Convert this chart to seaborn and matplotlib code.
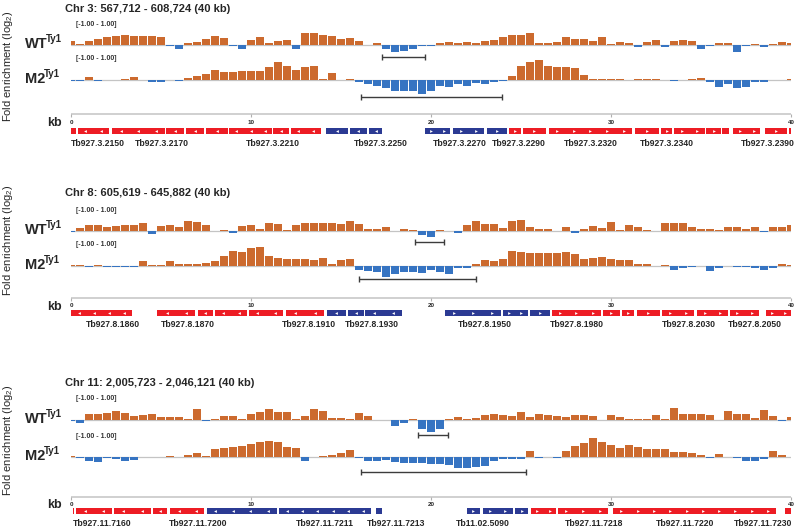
import numpy as np
import pandas as pd
import matplotlib.pyplot as plt
import seaborn as sns

sns.set_style('white')
plt.rcParams['font.family'] = ['Liberation Sans', 'DejaVu Sans']
plt.rcParams['mathtext.fontset'] = 'custom'
plt.rcParams['mathtext.rm'] = 'Liberation Sans'

# bin positions (kb), one value per 0.5 kb bin
KB = np.linspace(0, 40, 81)

# ---- Chr 3 ----
WT_CHR3 = [0.2, 0.05, 0.2, 0.3, 0.38, 0.45, 0.5, 0.45, 0.45, 0.45,
           0.4, -0.05, -0.2, 0.1, 0.15, 0.3, 0.45, 0.35, -0.05, -0.22,
           0.25, 0.38, 0.1, 0.2, 0.27, -0.18, 0.6, 0.6, 0.52, 0.45,
           0.3, 0.35, 0.2, 0.02, 0.1, -0.2, -0.35, -0.3, -0.2, -0.05,
           -0.05, 0.1, 0.15, 0.12, 0.15, 0.12, 0.22, 0.25, 0.42, 0.48,
           0.5, 0.58, 0.1, 0.12, 0.15, 0.38, 0.3, 0.3, 0.2, 0.38,
           0.05, 0.15, 0.12, -0.08, 0.15, 0.25, -0.08, 0.18, 0.25, 0.22,
           -0.2, -0.05, 0.1, 0.08, -0.35, -0.05, 0.05, -0.08, 0.05, 0.15,
           0.1]
M2_CHR3 = [-0.03, -0.03, 0.15, -0.03, -0.02, -0.02, 0.05, 0.17, 0.0, -0.12,
           -0.08, 0.0, -0.05, 0.1, 0.2, 0.3, 0.5, 0.4, 0.38, 0.45,
           0.45, 0.45, 0.65, 0.88, 0.72, 0.5, 0.65, 0.7, 0.05, 0.35,
           0.0, 0.03, -0.1, -0.2, -0.3, -0.38, -0.55, -0.55, -0.55, -0.7,
           -0.55, -0.28, -0.33, -0.18, -0.28, -0.15, -0.18, -0.1, -0.05, 0.2,
           0.7, 0.92, 1.0, 0.7, 0.63, 0.63, 0.58, 0.25, 0.03, 0.03,
           0.03, 0.03, 0.0, 0.03, 0.03, 0.03, 0.0, -0.03, 0.0, 0.05,
           0.12, -0.1, -0.35, -0.18, -0.38, -0.35, -0.12, -0.1, 0.0, 0.0,
           0.05]
GENE_START_CHR3 = [0.0, 0.37, 2.26, 5.26, 6.4, 7.5, 8.8, 11.24, 12.2, 14.17, 15.5, 16.56, 19.67,
                   21.2, 23.13, 24.35, 25.1, 26.54, 31.33, 32.8, 33.5, 35.3, 36.17, 36.8, 38.56, 39.9]
GENE_END_CHR3 = [0.3, 2.1, 5.2, 6.3, 7.4, 8.7, 11.15, 12.1, 13.87, 15.37, 16.43, 17.3, 21.06,
                 22.96, 24.24, 24.98, 26.37, 31.18, 32.67, 33.4, 35.2, 36.1, 36.56, 38.3, 39.78, 40.0]
GENE_KIND_CHR3 = 'rrrrrrrrrbbbbbbrrrrrrrrrrr'
GENE_STRAND_CHR3 = '<<<<<<<<<<<<>>>>>>>>>>>>>>'
NAMES_CHR3 = ['Tb927.3.2150', 'Tb927.3.2170', 'Tb927.3.2210', 'Tb927.3.2250', 'Tb927.3.2270',
              'Tb927.3.2290', 'Tb927.3.2320', 'Tb927.3.2340', 'Tb927.3.2390']
NAME_POS_CHR3 = [1.5, 5.06, 11.2, 17.2, 21.6, 24.9, 28.9, 33.1, 38.7]
BAR_WT_CHR3 = (17.28, 19.67)
BAR_M2_CHR3 = (16.1, 23.94)

# ---- Chr 8 ----
WT_CHR8 = [-0.05, 0.15, 0.32, 0.28, 0.2, 0.25, 0.28, 0.3, 0.4, -0.15,
           0.25, 0.3, 0.2, 0.48, 0.45, 0.3, 0.0, 0.03, -0.12, 0.25,
           0.28, 0.1, 0.4, 0.35, 0.05, 0.3, 0.4, 0.42, 0.42, 0.4,
           0.35, 0.48, 0.35, 0.12, 0.12, 0.2, 0.0, 0.1, 0.05, -0.22,
           -0.3, 0.03, 0.02, -0.08, 0.3, 0.5, 0.33, 0.33, 0.15, 0.5,
           0.53, 0.2, 0.1, 0.12, 0.02, 0.2, -0.08, 0.1, 0.25, 0.15,
           0.45, 0.05, 0.28, 0.2, 0.05, 0.0, 0.42, 0.38, 0.42, 0.2,
           0.12, 0.08, 0.05, 0.22, 0.18, 0.08, 0.2, -0.05, 0.2, 0.2,
           0.28]
M2_CHR8 = [0.03, 0.05, -0.05, 0.05, -0.07, -0.07, -0.07, -0.05, 0.27, 0.03,
           0.05, 0.23, 0.12, 0.1, 0.1, 0.15, 0.25, 0.5, 0.75, 0.72,
           0.9, 0.95, 0.5, 0.38, 0.35, 0.33, 0.33, 0.3, 0.38, 0.1,
           0.3, 0.33, -0.2, -0.25, -0.3, -0.55, -0.4, -0.3, -0.3, -0.37,
           -0.2, -0.3, -0.4, -0.12, -0.1, 0.1, 0.3, 0.25, 0.35, 0.75,
           0.72, 0.65, 0.67, 0.67, 0.65, 0.72, 0.6, 0.35, 0.4, 0.43,
           0.35, 0.3, 0.3, 0.12, 0.08, 0.0, 0.03, -0.2, -0.1, -0.05,
           0.0, -0.23, -0.1, 0.0, -0.05, -0.05, -0.1, -0.2, -0.1, 0.08,
           0.05]
GENE_START_CHR8 = [0.0, 4.78, 7.04, 8.0, 9.87, 11.93, 14.2, 15.37, 16.33, 20.78,
                   23.98, 25.48, 26.72, 29.54, 30.6, 31.44, 32.85, 34.76, 36.6, 38.6]
GENE_END_CHR8 = [3.37, 6.9, 7.9, 9.76, 11.8, 14.07, 15.26, 16.3, 18.4, 23.9,
                 25.37, 26.63, 29.43, 30.5, 31.3, 32.72, 34.63, 36.5, 38.24, 40.0]
GENE_KIND_CHR8 = 'rrrrrrbbbbbbrrrrrrrr'
GENE_STRAND_CHR8 = '<<<<<<<<<>>>>>>>>>>>'
NAMES_CHR8 = ['Tb927.8.1860', 'Tb927.8.1870', 'Tb927.8.1910', 'Tb927.8.1930',
              'Tb927.8.1950', 'Tb927.8.1980', 'Tb927.8.2030', 'Tb927.8.2050']
NAME_POS_CHR8 = [2.33, 6.5, 13.2, 16.7, 23.0, 28.1, 34.3, 38.0]
BAR_WT_CHR8 = (19.1, 20.7)
BAR_M2_CHR8 = (16.0, 22.5)

# ---- Chr 11 ----
WT_CHR11 = [-0.03, -0.17, 0.28, 0.32, 0.33, 0.45, 0.35, 0.2, 0.25, 0.28,
            0.15, 0.15, 0.17, 0.05, 0.53, -0.05, 0.05, 0.2, 0.2, 0.03,
            0.3, 0.38, 0.55, 0.42, 0.4, 0.05, 0.2, 0.55, 0.45, 0.1,
            0.12, 0.03, 0.35, 0.2, 0.0, 0.02, -0.3, -0.15, 0.03, -0.45,
            -0.62, -0.45, 0.05, 0.17, 0.03, 0.12, 0.25, 0.28, 0.25, 0.2,
            0.42, 0.15, 0.28, 0.25, 0.22, 0.15, 0.25, 0.25, 0.22, 0.0,
            0.25, 0.15, 0.05, 0.03, 0.05, 0.25, 0.05, 0.58, 0.3, 0.3,
            0.3, 0.25, 0.02, 0.45, 0.3, 0.28, 0.1, 0.5, 0.2, -0.05,
            0.15]
M2_CHR11 = [0.05, -0.05, -0.18, -0.25, -0.05, -0.1, -0.2, -0.15, 0.02, 0.02,
            0.0, 0.03, 0.02, 0.1, 0.2, 0.05, 0.42, 0.45, 0.5, 0.53,
            0.65, 0.75, 0.8, 0.75, 0.48, 0.45, -0.18, 0.02, 0.05, 0.1,
            0.18, 0.37, -0.05, -0.18, -0.18, -0.15, -0.25, -0.3, -0.3, -0.3,
            -0.35, -0.35, -0.38, -0.55, -0.55, -0.52, -0.47, -0.22, -0.1, -0.08,
            -0.08, 0.3, -0.05, 0.0, -0.05, 0.3, 0.55, 0.7, 0.95, 0.75,
            0.6, 0.45, 0.62, 0.5, 0.42, 0.42, 0.42, 0.23, 0.23, 0.2,
            0.1, -0.07, 0.15, 0.0, -0.05, -0.2, -0.22, -0.1, 0.28, 0.1,
            0.0]
GENE_START_CHR11 = [0.1, 0.28, 2.37, 4.57, 5.5, 7.54, 11.57, 16.93, 21.98, 22.87,
                    24.67, 25.56, 27.06, 30.13, 39.67]
GENE_END_CHR11 = [0.17, 2.26, 4.44, 5.35, 7.4, 11.43, 16.65, 17.25, 22.7, 24.54,
                  25.4, 26.94, 29.85, 39.17, 40.0]
GENE_KIND_CHR11 = 'rrrrrbbbbbbrrrr'
GENE_STRAND_CHR11 = '<<<<<<<<>>>>>>>'
NAMES_CHR11 = ['Tb927.11.7160', 'Tb927.11.7200', 'Tb927.11.7211', 'Tb927.11.7213',
               'Tb11.02.5090', 'Tb927.11.7218', 'Tb927.11.7220', 'Tb927.11.7230']
NAME_POS_CHR11 = [1.75, 7.06, 14.1, 18.05, 22.87, 29.05, 34.14, 38.44]
BAR_WT_CHR11 = (19.28, 20.94)
BAR_M2_CHR11 = (16.1, 25.3)

TITLES = ['Chr 3: 567,712 - 608,724 (40 kb)',
          'Chr 8: 605,619 - 645,882 (40 kb)',
          'Chr 11: 2,005,723 - 2,046,121 (40 kb)']
RULER_TICKS = [0, 10, 20, 30, 40]

ORANGE = '#CC6A2E'
BLUE = '#3674C2'
GENE_COLORS = {'r': '#ED1C24', 'b': '#2B3A93'}

W, H = 796, 530
X0, X1 = 71, 791
fig = plt.figure(figsize=(W / 100, H / 100), dpi=100)


def add_px_axes(y_top, y_bot):
    return fig.add_axes([X0 / W, 1 - y_bot / H, (X1 - X0) / W, (y_bot - y_top) / H])


def fig_text(x, y, s, **kw):
    fig.text(x / W, 1 - y / H, s, **kw)


def draw_track(base, values, bar, bar_off, name):
    ax = add_px_axes(base - 20, base + 20)
    df = pd.DataFrame({'kb': KB, 'value': values})
    df['sign'] = np.where(df['value'] >= 0, 'pos', 'neg')
    ax.axhline(0, color='#c4c4c4', lw=0.9, zorder=0.5)
    sns.barplot(data=df, x='kb', y='value', hue='sign', palette={'pos': ORANGE, 'neg': BLUE},
                native_scale=True, dodge=False, errorbar=None, width=0.88, saturation=1,
                legend=False, linewidth=0, ax=ax)
    ax.set_xlim(0, 40)
    ax.set_ylim(-1, 1)
    ax.set_axis_off()
    ax.errorbar((bar[0] + bar[1]) / 2, -bar_off / 20, xerr=(bar[1] - bar[0]) / 2, fmt='none',
                ecolor='#3c3c3c', elinewidth=1, capsize=2.4, capthick=1, clip_on=False)
    ax.text(0.25, 1.05, '[-1.00 - 1.00]', fontsize=5, fontweight='bold', color='#333333',
            ha='left', va='center', clip_on=False)
    fig_text(25, base + 3, name, fontsize=10.5, fontweight='bold', ha='left', va='baseline')
    fig_text(25 + (21 if name == 'WT' else 19), base - 3, 'Ty1', fontsize=7, fontweight='bold',
             ha='left', va='baseline')


def draw_genes(ruler_y, gene_y, name_y, starts, ends, kinds, strands, names, name_pos):
    ax = add_px_axes(ruler_y - 2, name_y + 7)
    ax.set_xlim(0, 40)
    ax.set_ylim(name_y + 7, ruler_y - 2)
    ax.set_axis_off()
    ax.hlines(ruler_y, 0, 40, color='#c8c8c8', lw=1.2, clip_on=False)
    ax.vlines(RULER_TICKS, ruler_y, ruler_y + 3, color='#b0b0b0', lw=0.8, clip_on=False)
    for t in RULER_TICKS:
        ax.text(t, ruler_y + 8, str(t), fontsize=4.5, fontweight='bold', ha='center',
                va='center', clip_on=False)
    for s, e, k, d in zip(starts, ends, kinds, strands):
        ax.barh(gene_y, e - s, left=s, height=5.5, color=GENE_COLORS[k], linewidth=0)
        length = e - s
        if length > 0.45:
            n = max(1, int(round(length / 0.9)))
            xs = [s + (i + 0.5) * length / n for i in range(n)]
            ax.plot(xs, [gene_y] * n, ls='none', marker=d, ms=2.0, color='white', mew=0)
    for nm, c in zip(names, name_pos):
        ax.text(c, name_y, nm, fontsize=6.2, fontweight='bold', ha='center', va='center',
                clip_on=False)


panels = [
    dict(title_y=9, wt_base=45, m2_base=80, ruler_y=114, gene_y=131, name_y=143, kb_y=123, ylab_y=66,
         wt=WT_CHR3, m2=M2_CHR3, bars=(BAR_WT_CHR3, BAR_M2_CHR3), offs=(12, 17),
         genes=(GENE_START_CHR3, GENE_END_CHR3, GENE_KIND_CHR3, GENE_STRAND_CHR3),
         names=(NAMES_CHR3, NAME_POS_CHR3)),
    dict(title_y=193, wt_base=231, m2_base=266, ruler_y=298, gene_y=313, name_y=325, kb_y=307, ylab_y=240,
         wt=WT_CHR8, m2=M2_CHR8, bars=(BAR_WT_CHR8, BAR_M2_CHR8), offs=(11, 13),
         genes=(GENE_START_CHR8, GENE_END_CHR8, GENE_KIND_CHR8, GENE_STRAND_CHR8),
         names=(NAMES_CHR8, NAME_POS_CHR8)),
    dict(title_y=383, wt_base=420, m2_base=457, ruler_y=497, gene_y=511, name_y=523, kb_y=505, ylab_y=440,
         wt=WT_CHR11, m2=M2_CHR11, bars=(BAR_WT_CHR11, BAR_M2_CHR11), offs=(15, 15),
         genes=(GENE_START_CHR11, GENE_END_CHR11, GENE_KIND_CHR11, GENE_STRAND_CHR11),
         names=(NAMES_CHR11, NAME_POS_CHR11)),
]

for title, p in zip(TITLES, panels):
    fig_text(65, p['title_y'], title, fontsize=8, fontweight='bold', ha='left', va='center')
    fig_text(8, p['ylab_y'], 'Fold enrichment (log$_2$)', fontsize=8, rotation=90,
             ha='center', va='center')
    draw_track(p['wt_base'], p['wt'], p['bars'][0], p['offs'][0], 'WT')
    draw_track(p['m2_base'], p['m2'], p['bars'][1], p['offs'][1], 'M2')
    fig_text(47, p['kb_y'], 'kb', fontsize=9, fontweight='bold', ha='left', va='center')
    draw_genes(p['ruler_y'], p['gene_y'], p['name_y'], *p['genes'], *p['names'])

fig.savefig('out.png', dpi=100)
